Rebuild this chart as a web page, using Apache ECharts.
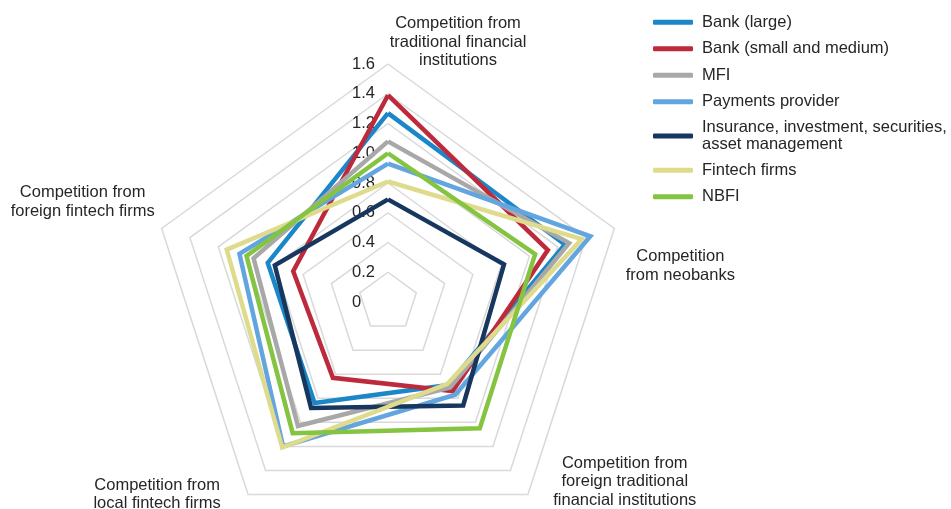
<!DOCTYPE html>
<html>
<head>
<meta charset="utf-8">
<script src="https://cdn.jsdelivr.net/npm/echarts@6/dist/echarts.min.js"></script>
<style>
  html, body { margin: 0; padding: 0; background: #ffffff; }
  #chart { width: 951px; height: 509px; }
</style>
</head>
<body>
<div id="chart"></div>
<script>
// Radar axes, listed counter-clockwise from the top
var categories = [
  'Competition from\ntraditional financial\ninstitutions',
  'Competition from\nforeign fintech firms',
  'Competition from\nlocal fintech firms',
  'Competition from\nforeign traditional\nfinancial institutions',
  'Competition\nfrom neobanks'
];

var seriesNames = [
  'Bank (large)',
  'Bank (small and medium)',
  'MFI',
  'Payments provider',
  'Insurance, investment, securities,\nasset management',
  'Fintech firms',
  'NBFI'
];

// Scores per institution type, in the same axis order as categories
var bankLarge  = [1.27, 0.85, 0.84, 0.69, 1.25];
var bankSmall  = [1.39, 0.67, 0.63, 0.74, 1.13];
var mfi        = [1.08, 0.95, 1.03, 0.71, 1.28];
var payments   = [0.93, 1.05, 1.20, 0.77, 1.43];
var insurance  = [0.69, 0.80, 0.88, 0.86, 0.82];
var fintech    = [0.81, 1.14, 1.21, 0.68, 1.37];
var nbfi       = [1.00, 1.00, 1.09, 1.05, 1.04];

var axisMax = 1.6;
var axisSplits = 8;

var seriesColors = ['#1b87c9', '#bd2a3c', '#a8a8a8', '#62a5df', '#17375e', '#dedc8c', '#84c441'];
var seriesValues = [bankLarge, bankSmall, mfi, payments, insurance, fintech, nbfi];

// Placement of each axis title around its outer vertex
var nameGaps = [-6, 0, 0, 18.5, 0];
var namePlacement = [
  { align: 'center', verticalAlign: 'bottom', padding: [0, 0, 0, 140] },
  { align: 'center', verticalAlign: 'bottom', padding: [0, 158, 8, 0] },
  { align: 'center', padding: [0, 182, 0, 0] },
  { align: 'center', verticalAlign: 'bottom', padding: [0, 0, 0, 172] },
  { align: 'center', verticalAlign: 'top', padding: [19, 0, 0, 132] }
];

var font = '"Liberation Sans", Arial, sans-serif';

var indicators = categories.map(function (name, i) {
  var ind = {
    name: name,
    min: 0,
    max: axisMax,
    nameGap: nameGaps[i],
    nameMoveOverlap: false,
    nameTextStyle: namePlacement[i]
  };
  if (i === 0) {
    ind.axisLabel = { show: true };
  }
  return ind;
});

var chart = echarts.init(document.getElementById('chart'), null, { renderer: 'canvas' });

chart.setOption({
  animation: false,
  backgroundColor: '#ffffff',
  color: seriesColors,
  legend: {
    orient: 'vertical',
    left: 648,
    top: 8,
    itemWidth: 40,
    itemHeight: 5,
    itemGap: 8,
    icon: 'roundRect',
    textStyle: {
      fontFamily: font,
      fontSize: 16.5,
      lineHeight: 18.5,
      color: '#262626',
      padding: [0, 0, 0, 4]
    },
    data: seriesNames.map(function (name, i) {
      return i === 4 ? { name: name, textStyle: { lineHeight: 17 } } : { name: name };
    })
  },
  radar: {
    center: [388, 302],
    radius: 238,
    startAngle: 90,
    splitNumber: axisSplits,
    shape: 'polygon',
    nameGap: 0,
    axisName: {
      color: '#262626',
      fontFamily: font,
      fontSize: 16.5,
      lineHeight: 18.5
    },
    axisLine: { show: false },
    axisTick: { show: false },
    axisLabel: {
      show: false,
      color: '#262626',
      fontFamily: font,
      fontSize: 16.5,
      align: 'left',
      margin: 36,
      formatter: function (v) { return v === 0 ? '0' : v.toFixed(1); }
    },
    splitLine: { lineStyle: { color: '#d9d9d9', width: 1.5 } },
    splitArea: { show: false },
    indicator: indicators
  },
  series: [{
    type: 'radar',
    symbol: 'none',
    data: seriesNames.map(function (name, i) {
      return {
        name: name,
        value: seriesValues[i],
        lineStyle: { color: seriesColors[i], width: 4.5, join: 'miter' },
        itemStyle: { color: seriesColors[i] }
      };
    })
  }]
});
</script>
</body>
</html>
